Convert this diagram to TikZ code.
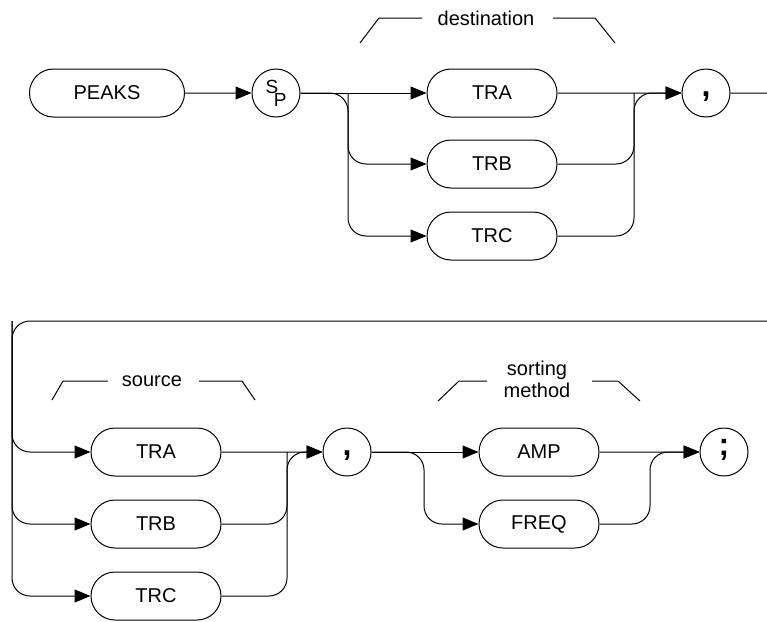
\documentclass[tikz,border=0pt]{standalone}
\usepackage{fontspec}
\setmainfont{Liberation Sans}
\usetikzlibrary{arrows.meta,shapes.misc}

\begin{document}
\begin{tikzpicture}[x=1pt,y=-1pt,line width=1pt,font=\fontsize{20}{22}\selectfont,
  keyword/.style={draw,rounded rectangle,minimum height=48pt,minimum width=130pt,inner sep=0pt},
  char/.style={draw,circle,minimum size=48pt,inner sep=0pt},
  punct/.style={char,font=\fontsize{32}{34}\selectfont\bfseries,text height=6pt,text depth=0pt},
  flow/.style={-{Triangle[length=16pt,width=13pt]}},
  curvy/.style={rounded corners=18pt}]
\useasboundingbox (0,0) rectangle (767,621);
\clip (0,0) rectangle (767,621);
% first line
\node[keyword,minimum width=155pt] (peaks) at (107,93) {PEAKS};
\node[char,font=\fontsize{19}{20}\selectfont] (sp) at (276,93) {\raisebox{5pt}{S}\kern-4.5pt\raisebox{-8pt}{P}};
\node[keyword] (dtra) at (492,93) {TRA};
\node[keyword] (dtrb) at (492,164) {TRB};
\node[keyword] (dtrc) at (492,236) {TRC};
\node[punct] (c1) at (706,93) {,};
\coordinate (split1) at (348,93); \coordinate (join1) at (634,93);
\draw[flow] (peaks) -- (sp);
\draw[flow] (sp) -- (dtra);
\draw[flow,curvy] (sp.east) -| (split1 |- dtrc) -- (dtrc);
\draw[flow,curvy] (split1) |- (dtrb);
\draw[flow] (dtra) -- (c1);
\draw[flow,curvy] (dtrc.east) -| (join1) -- (c1);
\draw[curvy] (dtrb.east) -| (join1);
\node (dest) at (486,18) {destination};
\draw (360,43) -- (379,18) -- (422,18); \draw (553,18) -- (595,18) -- (615,43);
% second line
\coordinate (split2) at (12,321);
\node[keyword] (stra) at (156,452) {TRA};
\node[keyword] (strb) at (156,524) {TRB};
\node[keyword] (strc) at (156,596) {TRC};
\node[punct] (c2) at (347,452) {,};
\node[keyword,minimum width=120pt] (amp) at (539,452) {AMP};
\node[keyword,minimum width=120pt] (freq) at (539,524) {FREQ};
\node[punct] (c3) at (724,452) {;};
\coordinate (join2) at (287,452); \coordinate (split3) at (424,452); \coordinate (join3) at (650,452);
\draw[flow,curvy] (c1.east) -| (790,321) -| (split2 |- strc) -- (strc);
\draw[flow,curvy] (split2) |- (stra);
\draw[flow,curvy] (split2) |- (strb);
\draw[flow] (stra) -- (c2);
\draw[flow,curvy] (strc.east) -| (join2) -- (c2);
\draw[curvy] (strb.east) -| (join2);
\draw[flow] (c2) -- (amp);
\draw[flow,curvy] (c2.east) -| (split3 |- freq) -- (freq);
\draw[flow] (amp) -- (c3);
\draw[flow,curvy] (freq.east) -| (join3) -- (c3);
\node (src) at (152,381) {source};
\draw (52,400) -- (63,381) -- (108,381); \draw (199,381) -- (242,381) -- (255,400);
\node[align=center] (sort) at (537,379) {sorting\\method};
\draw (438,401) -- (459,381) -- (487,381); \draw (592,381) -- (618,381) -- (640,401);
\end{tikzpicture}
\end{document}
